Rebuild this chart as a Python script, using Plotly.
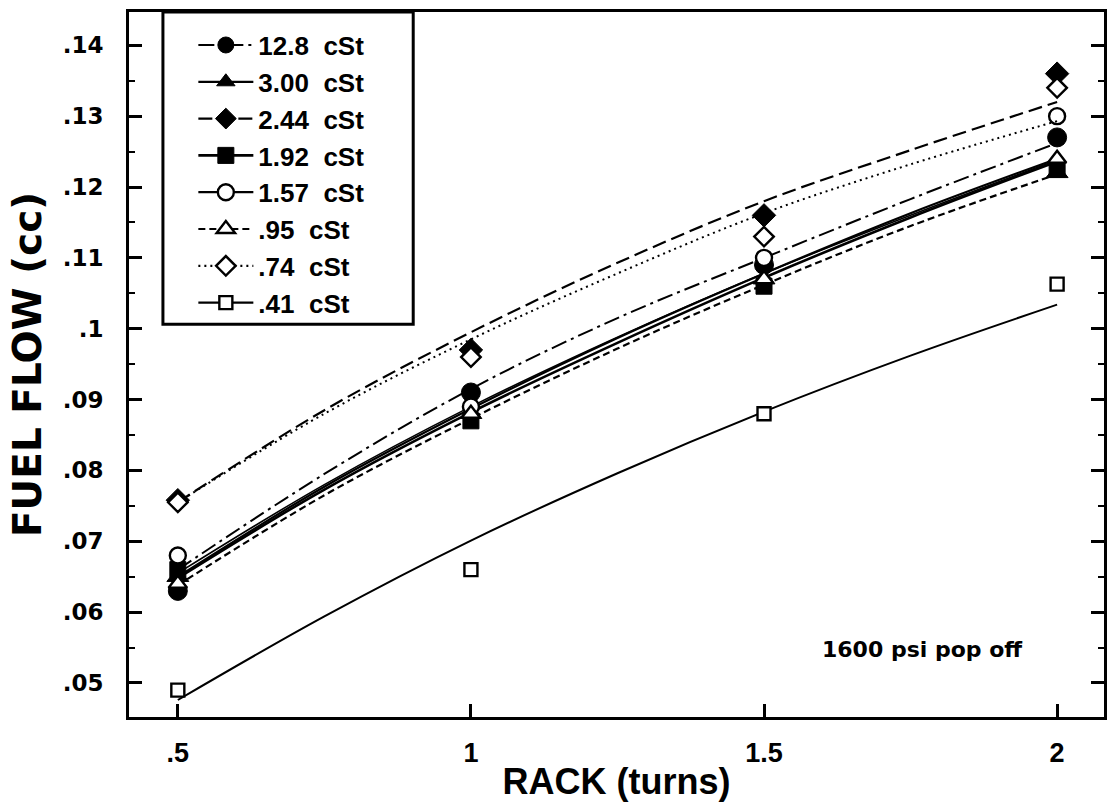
import plotly.graph_objects as go

# ---------------- data ----------------
rack = [0.5, 1.0, 1.5, 2.0]
fit_rack = [0.5, 0.75, 1.0, 1.25, 1.5, 1.75, 2.0]

series_names = ["12.8\u00a0\u00a0cSt", "3.00\u00a0\u00a0cSt", "2.44\u00a0\u00a0cSt", "1.92\u00a0\u00a0cSt",
                "1.57\u00a0\u00a0cSt", ".95\u00a0\u00a0cSt", ".74\u00a0\u00a0cSt", ".41\u00a0\u00a0cSt"]

flow_12_8 = [0.063, 0.091, 0.109, 0.127]
flow_3_00 = [0.065, 0.088, 0.107, 0.122]
flow_2_44 = [0.0758, 0.097, 0.116, 0.136]
flow_1_92 = [0.066, 0.087, 0.106, 0.1225]
flow_1_57 = [0.068, 0.089, 0.110, 0.130]
flow_0_95 = [0.064, 0.088, 0.107, 0.124]
flow_0_74 = [0.0755, 0.096, 0.113, 0.134]
flow_0_41 = [0.049, 0.066, 0.088, 0.1063]

fit_12_8 = [0.0660, 0.0795, 0.0915, 0.1015, 0.1100, 0.1183, 0.1262]
fit_3_00 = [0.0650, 0.0777, 0.0887, 0.0987, 0.1078, 0.1163, 0.1240]
fit_2_44 = [0.0755, 0.0885, 0.0995, 0.1093, 0.1180, 0.1252, 0.1320]
fit_1_92 = [0.0648, 0.0773, 0.0882, 0.0980, 0.1072, 0.1157, 0.1236]
fit_1_57 = [0.0655, 0.0780, 0.0890, 0.0988, 0.1078, 0.1160, 0.1238]
fit_0_95 = [0.0638, 0.0765, 0.0873, 0.0972, 0.1062, 0.1145, 0.1218]
fit_0_74 = [0.0755, 0.0880, 0.0985, 0.1078, 0.1163, 0.1232, 0.1293]
fit_0_41 = [0.0476, 0.0594, 0.0701, 0.0796, 0.0883, 0.0962, 0.1034]

y_tickvals = [0.05, 0.06, 0.07, 0.08, 0.09, 0.10, 0.11, 0.12, 0.13, 0.14]
y_ticktext = [".05", ".06", ".07", ".08", ".09", ".1", ".11", ".12", ".13", ".14"]
x_tickvals = [0.5, 1.0, 1.5, 2.0]
x_ticktext = [".5", "1", "1.5", "2"]

# ---------------- styles ----------------
flows = [flow_12_8, flow_3_00, flow_2_44, flow_1_92, flow_1_57, flow_0_95, flow_0_74, flow_0_41]
fits = [fit_12_8, fit_3_00, fit_2_44, fit_1_92, fit_1_57, fit_0_95, fit_0_74, fit_0_41]
symbols = ["circle", "triangle-up", "diamond", "square", "circle", "triangle-up", "diamond", "square"]
hollow = [False, False, False, False, True, True, True, True]
sizes = [19, 19, 18, 16, 16, 16, 15, 13]
dashes = ["16px,5px,3px,5px", "solid", "14px,6px", "solid", "solid", "7px,4px", "2px,4px", "solid"]
widths = [2, 2.2, 2.2, 2.6, 1.6, 2.2, 2, 2]

FONT = "Liberation Sans, Arial, sans-serif"
WIDE = "DejaVu Sans, Verdana, sans-serif"

fig = go.Figure()
for name, fl, ft, sym, hol, sz, dash, w in zip(series_names, flows, fits, symbols, hollow, sizes, dashes, widths):
    mk = dict(symbol=sym, size=sz, color="white" if hol else "black",
              line=dict(color="black", width=2.4 if hol else 1))
    # fitted curve
    fig.add_trace(go.Scatter(x=fit_rack, y=ft, mode="lines",
                             line=dict(color="black", width=w, dash=dash, shape="spline"),
                             showlegend=False, hoverinfo="skip"))
    # data points
    fig.add_trace(go.Scatter(x=rack, y=fl, mode="markers", marker=mk, showlegend=False))
    # legend entry
    fig.add_trace(go.Scatter(x=[None], y=[None], mode="lines+markers", name=name,
                             line=dict(color="black", width=max(w, 2.2), dash=dash), marker=mk))

fig.add_annotation(x=1.77, y=0.0547, text="1600 psi pop off", showarrow=False,
                   font=dict(family=WIDE, size=22, color="black", weight="bold"))

# legend frame
fig.add_shape(type="rect", xref="paper", yref="paper", x0=0.0348, x1=0.2915, y0=0.557, y1=1.0,
              line=dict(color="black", width=3), fillcolor="rgba(0,0,0,0)", layer="above")

fig.update_layout(
    width=1116, height=809,
    margin=dict(l=129, r=9, t=10, b=92),
    paper_bgcolor="white", plot_bgcolor="white",
    font=dict(family=FONT, color="black", weight="bold"),
    legend=dict(x=0.066, y=0.9864, xanchor="left", yanchor="top", bgcolor="rgba(0,0,0,0)",
                borderwidth=0, itemwidth=55, font=dict(family=FONT, size=26, weight="bold"),
                tracegroupgap=0, itemclick=False),
    showlegend=True,
)

fig.update_xaxes(range=[0.4167, 2.080], tickvals=x_tickvals, ticktext=x_ticktext,
                 ticks="inside", ticklen=13, tickwidth=2.5, tickcolor="black",
                 showline=True, linecolor="black", linewidth=3, mirror=True,
                 showgrid=False, zeroline=False, ticklabelstandoff=10,
                 tickfont=dict(family=FONT, size=27, weight="bold"),
                 title=dict(text="RACK (turns)", font=dict(family=FONT, size=36, weight="bold"), standoff=2))

fig.update_yaxes(range=[0.0452, 0.1447], tickvals=y_tickvals, ticktext=y_ticktext,
                 ticks="inside", ticklen=13, tickwidth=2.5, tickcolor="black",
                 minor=dict(ticks="inside", ticklen=6, tickwidth=2, tickcolor="black", dtick=0.01, tick0=0.055),
                 showline=True, linecolor="black", linewidth=3, mirror="ticks",
                 showgrid=False, zeroline=False, ticklabelstandoff=18,
                 tickfont=dict(family=WIDE, size=23, weight="bold"),
                 title=dict(text="FUEL FLOW (cc)", font=dict(family=WIDE, size=39, weight="bold"), standoff=10))

fig.write_html("out.html")
